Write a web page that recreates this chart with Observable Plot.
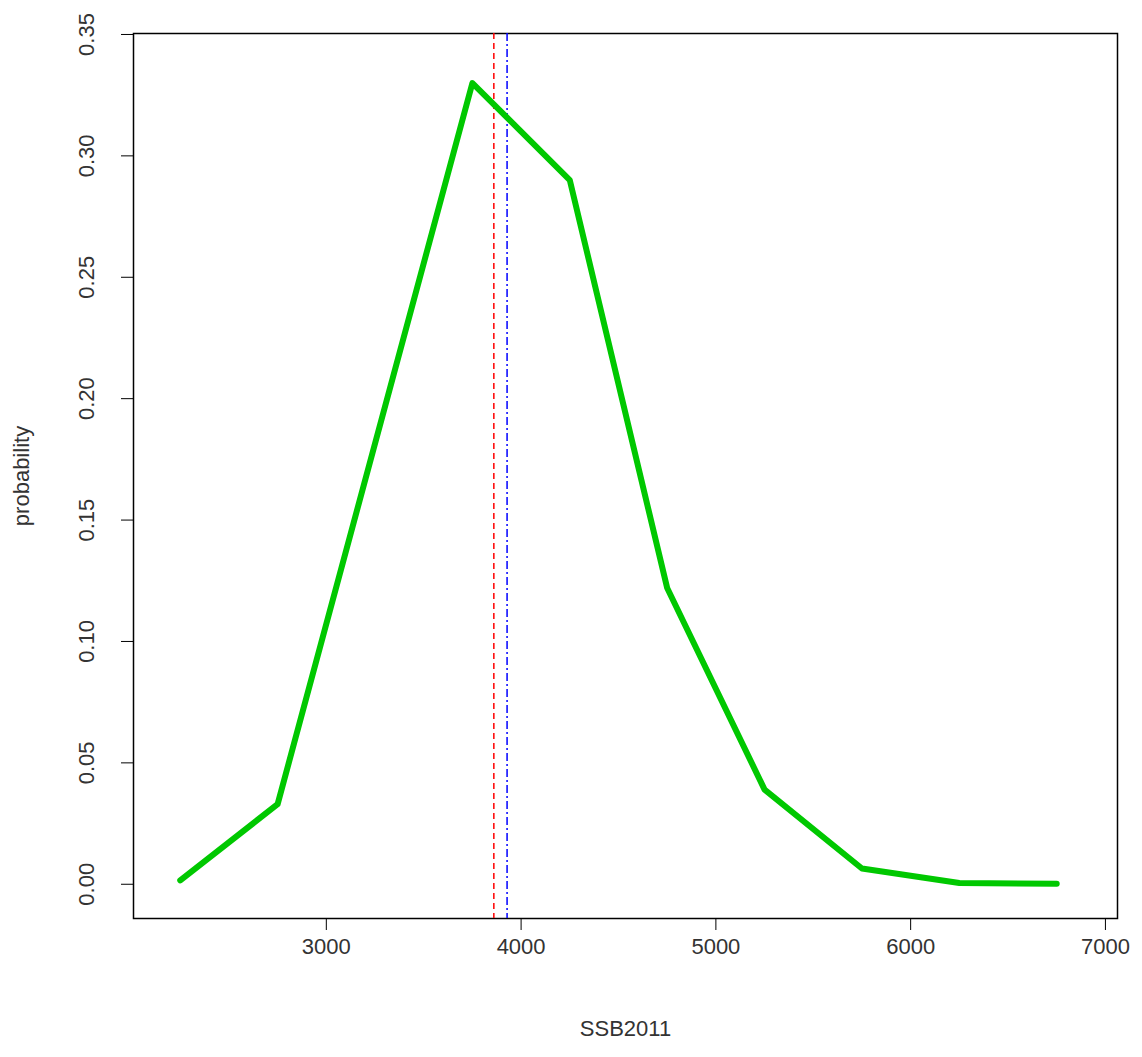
<!DOCTYPE html>
<html><head>
<script src="https://cdn.jsdelivr.net/npm/d3@7"></script>
<script src="https://cdn.jsdelivr.net/npm/@observablehq/plot@0.6"></script>
<style>body{margin:0;background:#fff} svg{font-family:"Liberation Sans",Arial,sans-serif}</style>
</head><body><div id="chart"></div>
<script>
const ssb = [2250, 2750, 3750, 4250, 4750, 5250, 5750, 6250, 6750]
const prob = [0.0016, 0.033, 0.33, 0.29, 0.122, 0.039, 0.0065, 0.0005, 0.0002]
const redLine = 3860
const blueLine = 3928
const xTicks = [3000, 4000, 5000, 6000, 7000]
const yTicks = [0, 0.05, 0.10, 0.15, 0.20, 0.25, 0.30, 0.35]

const data = ssb.map((x, i) => ({x, y: prob[i]}))

let chart = Plot.plot({
  width: 1142, height: 1057,
  marginLeft: 133, marginRight: 25, marginTop: 33, marginBottom: 139,
  style: {fontSize: "22px", color: "#333", background: "#fff"},
  x: {domain: [2010, 7062]},
  y: {domain: [-0.0141, 0.3504]},
  marks: [
    Plot.frame({stroke: "#000", strokeWidth: 1.5}),
    Plot.axisX({ticks: xTicks, tickSize: 12, tickPadding: 8, tickFormat: d3.format("d"), label: null, stroke: "#000"}),
    Plot.axisY({ticks: yTicks, tickSize: 12, tickPadding: 28, tickRotate: -90, tickFormat: d3.format(".2f"), label: null, stroke: "#000"}),
    Plot.text(["SSB2011"], {frameAnchor: "bottom", dy: 117, fontSize: 22, fill: "#333"}),
    Plot.text(["probability"], {frameAnchor: "left", textAnchor: "middle", dx: -112, rotate: -90, fontSize: 22, fill: "#333"}),
    Plot.ruleX([redLine], {stroke: "red", strokeDasharray: "6,4", strokeWidth: 1.5}),
    Plot.ruleX([blueLine], {stroke: "blue", strokeDasharray: "8,3,2,3", strokeWidth: 1.5}),
    Plot.line(data, {x: "x", y: "y", stroke: "blue", strokeWidth: 2, strokeDasharray: "6,4"}),
    Plot.line(data, {x: "x", y: "y", stroke: "#00c800", strokeWidth: 6})
  ]
})
d3.select('#chart').append(() => chart)
</script>
</body></html>
